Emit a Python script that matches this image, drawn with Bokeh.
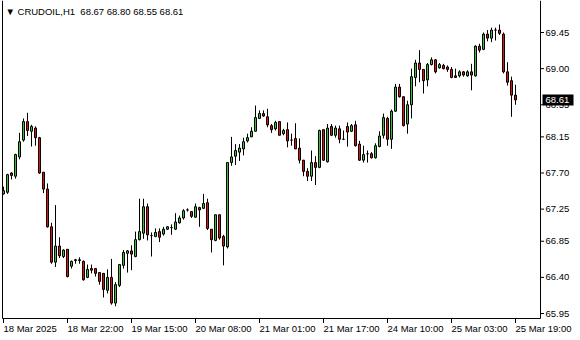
from bokeh.plotting import figure
from bokeh.models import Range1d, Label
from bokeh.core.properties import value
from bokeh.embed import file_html
from bokeh.resources import INLINE

symbol = "CRUDOIL"
timeframe = "H1"

opens = [67.44, 67.46, 67.70, 67.66, 67.90, 68.11, 68.34, 68.22, 68.26, 68.14,
         67.71, 67.50, 67.03, 66.59, 66.79, 66.66, 66.75, 66.54, 66.61, 66.61,
         66.60, 66.40, 66.51, 66.51, 66.46, 66.45, 66.24, 66.40, 66.08, 66.30,
         66.55, 66.70, 66.73, 66.66, 66.87, 66.95, 67.28, 66.92, 66.91, 66.97,
         66.94, 67.00, 67.02, 67.00, 67.08, 67.14, 67.24, 67.22, 67.15, 67.27,
         67.26, 67.33, 67.00, 66.86, 67.18, 66.91, 66.78, 67.83, 67.91, 67.96,
         68.00, 68.10, 68.15, 68.22, 68.38, 68.44, 68.40, 68.29, 68.25, 68.34,
         68.19, 68.24, 68.11, 68.13, 68.01, 67.86, 67.72, 67.66, 67.83, 67.77,
         68.24, 67.84, 68.28, 68.17, 68.25, 68.12, 68.28, 68.22, 68.30, 68.06,
         67.86, 67.94, 67.94, 67.89, 68.03, 68.17, 68.38, 68.12, 68.47, 68.77,
         68.65, 68.31, 68.55, 68.89, 69.07, 68.99, 68.86, 69.05, 69.11, 69.01,
         69.04, 69.02, 68.99, 68.91, 68.91, 68.96, 68.91, 68.96, 68.91, 69.28,
         69.24, 69.43, 69.38, 69.48, 69.48, 69.43, 68.96, 68.85, 68.67]
highs = [67.53, 67.69, 67.71, 67.94, 68.20, 68.38, 68.45, 68.30, 68.28, 68.15,
         67.71, 67.57, 67.08, 67.30, 66.90, 66.75, 66.75, 66.61, 66.63, 66.65,
         66.61, 66.56, 66.56, 66.51, 66.46, 66.45, 66.50, 66.63, 66.34, 66.56,
         66.74, 66.74, 66.80, 66.97, 67.38, 67.38, 67.32, 66.96, 67.01, 67.01,
         67.03, 67.04, 67.06, 67.20, 67.17, 67.25, 67.26, 67.22, 67.32, 67.28,
         67.44, 67.38, 67.00, 67.18, 67.18, 66.93, 67.83, 68.15, 68.06, 68.06,
         68.14, 68.19, 68.27, 68.54, 68.48, 68.48, 68.50, 68.31, 68.35, 68.34,
         68.25, 68.33, 68.19, 68.32, 68.13, 67.86, 67.76, 67.98, 67.91, 68.24,
         68.24, 68.31, 68.31, 68.29, 68.29, 68.23, 68.33, 68.31, 68.35, 68.10,
         68.04, 67.98, 67.96, 68.07, 68.22, 68.44, 68.40, 68.49, 68.81, 68.81,
         68.65, 68.60, 69.00, 69.11, 69.23, 68.99, 69.07, 69.14, 69.12, 69.07,
         69.06, 69.04, 69.02, 69.00, 68.98, 68.97, 68.98, 69.06, 69.29, 69.31,
         69.45, 69.48, 69.51, 69.51, 69.55, 69.45, 69.08, 68.90, 68.80]
lows = [67.43, 67.44, 67.62, 67.63, 67.87, 68.09, 68.16, 68.03, 68.04, 67.69,
        67.45, 67.02, 66.57, 66.53, 66.64, 66.64, 66.40, 66.51, 66.57, 66.57,
        66.36, 66.39, 66.45, 66.41, 66.31, 66.15, 66.20, 66.06, 66.04, 66.28,
        66.51, 66.46, 66.49, 66.65, 66.86, 66.88, 66.86, 66.66, 66.90, 66.84,
        66.92, 66.99, 66.93, 66.99, 67.07, 67.12, 67.22, 67.14, 67.14, 67.03,
        67.25, 66.99, 66.71, 66.85, 66.87, 66.55, 66.76, 67.79, 67.80, 67.85,
        67.92, 68.08, 68.15, 68.22, 68.38, 68.40, 68.27, 68.20, 68.23, 68.17,
        68.17, 68.02, 68.04, 68.00, 67.82, 67.66, 67.60, 67.60, 67.55, 67.76,
        67.85, 67.83, 68.16, 68.14, 68.07, 68.11, 68.03, 68.21, 68.03, 67.85,
        67.83, 67.83, 67.88, 67.88, 68.02, 68.13, 68.04, 68.00, 68.46, 68.64,
        68.28, 68.19, 68.38, 68.78, 68.83, 68.69, 68.78, 69.04, 68.94, 69.00,
        68.99, 68.96, 68.88, 68.89, 68.89, 68.90, 68.90, 68.73, 68.90, 69.20,
        69.23, 69.34, 69.33, 69.35, 69.42, 68.94, 68.79, 68.40, 68.55]
closes = [67.48, 67.68, 67.67, 67.93, 68.09, 68.34, 68.23, 68.28, 68.14, 67.70,
          67.50, 67.03, 66.59, 66.79, 66.67, 66.74, 66.41, 66.60, 66.62, 66.62,
          66.37, 66.50, 66.49, 66.45, 66.35, 66.25, 66.40, 66.08, 66.31, 66.56,
          66.71, 66.73, 66.69, 66.87, 66.97, 67.28, 66.93, 66.92, 66.96, 66.90,
          67.00, 67.03, 67.02, 67.09, 67.14, 67.23, 67.24, 67.16, 67.28, 67.24,
          67.32, 67.01, 66.87, 67.18, 66.89, 66.79, 67.83, 67.90, 67.98, 68.01,
          68.09, 68.14, 68.22, 68.39, 68.44, 68.41, 68.30, 68.24, 68.33, 68.17,
          68.23, 68.10, 68.11, 68.00, 67.86, 67.72, 67.66, 67.83, 67.77, 68.23,
          67.86, 68.26, 68.17, 68.26, 68.12, 68.12, 68.21, 68.29, 68.04, 67.86,
          67.93, 67.94, 67.89, 68.04, 68.16, 68.39, 68.12, 68.47, 68.77, 68.65,
          68.29, 68.55, 68.90, 69.07, 68.99, 68.85, 69.05, 69.11, 68.96, 69.05,
          69.00, 68.99, 68.89, 68.89, 68.96, 68.92, 68.96, 68.92, 69.28, 69.23,
          69.43, 69.38, 69.48, 69.48, 69.44, 68.96, 68.83, 68.67, 68.61]

time_ticks = [0, 16, 32, 48, 64, 80, 96, 112, 128]
time_labels = ["18 Mar 2025", "18 Mar 22:00", "19 Mar 15:00", "20 Mar 08:00",
               "21 Mar 01:00", "21 Mar 17:00", "24 Mar 10:00", "25 Mar 03:00",
               "25 Mar 19:00"]
price_ticks = [65.95, 66.40, 66.85, 67.25, 67.70, 68.15, 68.55, 69.00, 69.45]

# ---- layout / style ----
W, H = 580, 340
FONT = "Liberation Sans"
FS = "9.5px"
UP = "#36c236"
DOWN = "#e01010"
BAR_PX = 4.0          # pixels per bar
BAR0_SX = 3.0         # screen x of first bar
PX_PER_PRICE = 80.29  # vertical pixels per 1.00 of price
CAL_PRICE, CAL_SY = price_ticks[-1], 32.0  # calibration of the price scale


def sx_to_x(sx):
    return (sx - BAR0_SX) / BAR_PX


def sy_to_p(sy):
    return CAL_PRICE - (sy - CAL_SY) / PX_PER_PRICE


n = len(opens)
idx = list(range(n))
tops = [max(o, c) for o, c in zip(opens, closes)]
bottoms = [min(o, c) for o, c in zip(opens, closes)]
colors = [UP if c >= o else DOWN for o, c in zip(opens, closes)]

p = figure(width=W, height=H, output_backend="svg", toolbar_location=None,
           x_range=Range1d(sx_to_x(0), sx_to_x(W)),
           y_range=Range1d(sy_to_p(H), sy_to_p(0)),
           x_axis_location=None, y_axis_location=None, min_border=0)
p.outline_line_color = None
p.grid.visible = False
p.background_fill_color = "white"
p.border_fill_color = "white"

left_x = sx_to_x(2)
right_x = sx_to_x(540)
bottom_p = sy_to_p(318)
top_p = sy_to_p(0)

# chart frame (left, right, bottom)
p.segment(x0=[left_x, right_x, left_x], y0=[bottom_p, bottom_p, bottom_p],
          x1=[left_x, right_x, right_x], y1=[top_p, top_p, bottom_p],
          line_color="black", line_width=1)

# candles
p.segment(x0=idx, y0=lows, x1=idx, y1=highs, line_color="black", line_width=1)
p.vbar(x=idx, width=0.5, top=tops, bottom=bottoms, fill_color=colors,
       line_color="black", line_width=1)

# time axis: ticks + labels
k = len(time_ticks)
p.segment(x0=time_ticks, y0=[sy_to_p(318.5)] * k, x1=time_ticks,
          y1=[sy_to_p(322.5)] * k, line_color="black", line_width=1)
p.text(x=time_ticks, y=[bottom_p] * k, text=time_labels, x_offset=0,
       y_offset=10, text_font=value(FONT), text_font_size=value(FS),
       text_color="black", text_align="left", text_baseline="middle")

# price axis: ticks + labels
m = len(price_ticks)
p.segment(x0=[sx_to_x(540.5)] * m, y0=price_ticks, x1=[sx_to_x(543.5)] * m,
          y1=price_ticks, line_color="black", line_width=1)
p.text(x=[right_x] * m, y=price_ticks, text=[f"{t:.2f}" for t in price_ticks],
       x_offset=5, y_offset=0, text_font=value(FONT),
       text_font_size=value(FS), text_color="black", text_align="left",
       text_baseline="middle")

# current price marker
last = closes[-1]
p.rect(x=[sx_to_x(557.5)], y=[last], width=31, height=11,
       width_units="screen", height_units="screen",
       fill_color="black", line_color=None)
p.text(x=[right_x], y=[last], text=[f"{last:.2f}"], x_offset=5,
       text_font=value(FONT), text_font_size=value(FS), text_color="white",
       text_align="left", text_baseline="middle")

title = (f"\u25bc {symbol},{timeframe}\u00a0\u00a0{opens[-1]:.2f} {highs[-1]:.2f} "
         f"{lows[-1]:.2f} {closes[-1]:.2f}")
p.add_layout(Label(x=5, y=H - 11, x_units="screen", y_units="screen", text=title,
                   text_font=FONT, text_font_size=FS, text_color="black",
                   text_align="left", text_baseline="middle"))

open("out.html", "w").write(file_html(p, INLINE))
